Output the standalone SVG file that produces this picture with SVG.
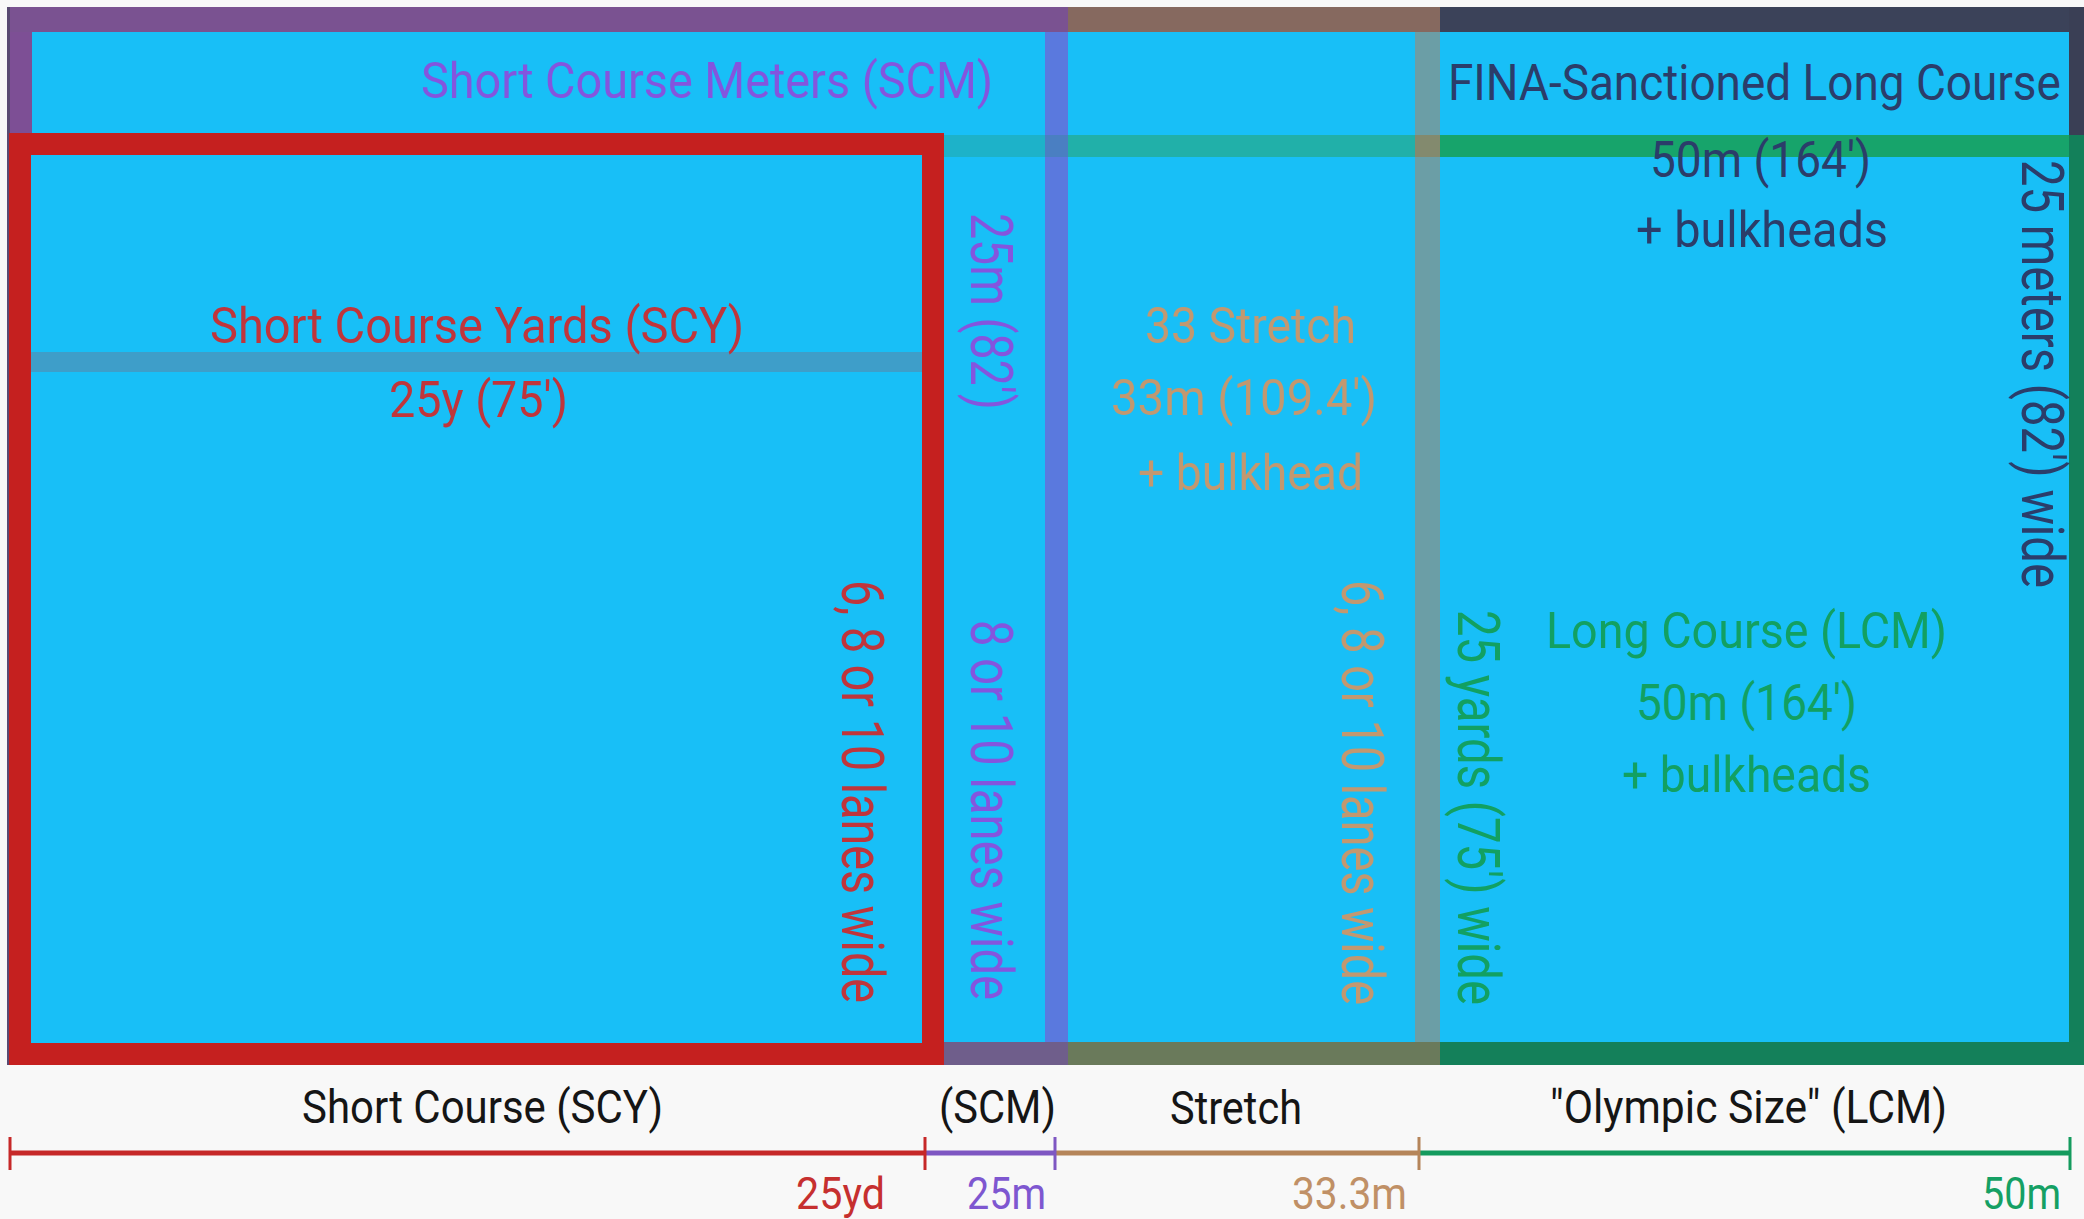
<svg xmlns="http://www.w3.org/2000/svg" width="2084" height="1219" viewBox="0 0 2084 1219">
<style>
  text { font-family: Roboto, "Liberation Sans", sans-serif; }
  .t { font-size: 50px; }
  .v { font-size: 60px; }
  .s { font-size: 46px; fill: #151515; }
  .m { font-size: 44px; }
  .scm { fill: #8455de; }
  .scy { fill: #c0353b; }
  .str { fill: #c29870; }
  .lcm { fill: #12a062; }
  .fina { fill: #2b3d6a; }
</style>
<rect x="0" y="0" width="2084" height="1219" fill="#f8f8f8"/>
<rect id="water" x="7" y="7" width="2077" height="1058" fill="#18bff7"/>

<g id="long-course-lcm">
  <rect x="944" y="135" width="101" height="22" fill="#1db2c9"/>
  <rect x="1068" y="135" width="347" height="22" fill="#21b0a9"/>
  <rect x="1440" y="135" width="629" height="22" fill="#17a46b"/>
  <rect x="2069" y="135" width="15" height="930" fill="#13805a"/>
  <rect x="1440" y="1042" width="644" height="23" fill="#14805a"/>
  <text class="t lcm" x="1546" y="648" textLength="401" lengthAdjust="spacingAndGlyphs">Long Course (LCM)</text>
  <text class="t lcm" x="1636" y="720" textLength="221" lengthAdjust="spacingAndGlyphs">50m (164')</text>
  <text class="t lcm" x="1622" y="792" textLength="249" lengthAdjust="spacingAndGlyphs">+ bulkheads</text>
  <text class="v lcm" transform="translate(1458,610) rotate(90)" textLength="395" lengthAdjust="spacingAndGlyphs">25 yards (75') wide</text>
</g>

<g id="fina-long-course">
  <text class="t fina" transform="translate(1448,100) scale(0.9,1)" textLength="681" lengthAdjust="spacingAndGlyphs">FINA-Sanctioned Long Course</text>
  <text class="t fina" x="1650" y="177" textLength="221" lengthAdjust="spacingAndGlyphs">50m (164')</text>
  <text class="t fina" x="1636" y="247" textLength="252" lengthAdjust="spacingAndGlyphs">+ bulkheads</text>
  <text class="v fina" transform="translate(2022,160) rotate(90)" textLength="428" lengthAdjust="spacingAndGlyphs">25 meters (82') wide</text>
  <rect x="1440" y="7" width="644" height="25" fill="#3b4259"/>
  <rect x="2069" y="7" width="15" height="128" fill="#3a3f55"/>
  <rect x="7" y="7" width="3" height="1058" fill="#594a72"/>
</g>

<g id="stretch-33">
  <rect x="1068" y="7" width="372" height="25" fill="#86695f"/>
  <rect x="1415" y="32" width="25" height="1010" fill="#6b9ea6"/>
  <rect x="1415" y="135" width="25" height="22" fill="#838a6e"/>
  <rect x="1068" y="1042" width="372" height="23" fill="#6a7a5b"/>
  <text class="t str" x="1145" y="343" textLength="211" lengthAdjust="spacingAndGlyphs">33 Stretch</text>
  <text class="t str" x="1111" y="415" textLength="266" lengthAdjust="spacingAndGlyphs">33m (109.4')</text>
  <text class="t str" x="1138" y="490" textLength="225" lengthAdjust="spacingAndGlyphs">+ bulkhead</text>
  <text class="v str" transform="translate(1342,580) rotate(90)" textLength="425" lengthAdjust="spacingAndGlyphs">6, 8 or 10 lanes wide</text>
</g>

<g id="short-course-meters">
  <rect x="10" y="7" width="1058" height="25" fill="#7a5291"/>
  <rect x="10" y="32" width="22" height="101" fill="#7d4f95"/>
  <rect x="1045" y="32" width="23" height="1010" fill="#5a79de"/>
  <rect x="1045" y="135" width="23" height="22" fill="#4a7fc2"/>
  <rect x="944" y="1042" width="124" height="23" fill="#6f5e8b"/>
  <text class="t scm" x="421" y="98" textLength="572" lengthAdjust="spacingAndGlyphs">Short Course Meters (SCM)</text>
  <text class="v scm" transform="translate(971,213) rotate(90)" textLength="197" lengthAdjust="spacingAndGlyphs">25m (82')</text>
  <text class="v scm" transform="translate(971,620) rotate(90)" textLength="380" lengthAdjust="spacingAndGlyphs">8 or 10 lanes wide</text>
</g>

<g id="short-course-yards">
  <rect x="31" y="352" width="891" height="20" fill="#3e9ec9"/>
  <rect x="20" y="144" width="913" height="910" fill="none" stroke="#c5201f" stroke-width="22"/>
  <text class="t scy" x="210" y="343" textLength="534" lengthAdjust="spacingAndGlyphs">Short Course Yards (SCY)</text>
  <text class="t scy" x="389" y="417" textLength="179" lengthAdjust="spacingAndGlyphs">25y (75')</text>
  <text class="v scy" transform="translate(842,580) rotate(90)" textLength="423" lengthAdjust="spacingAndGlyphs">6, 8 or 10 lanes wide</text>
</g>

<g id="connectors" stroke-width="5" fill="none">
  <line x1="10" y1="1153" x2="925" y2="1153" stroke="#c62828"/>
  <line x1="925" y1="1153" x2="1055" y2="1153" stroke="#7e57c2"/>
  <line x1="1055" y1="1153" x2="1419" y2="1153" stroke="#b5855a"/>
  <line x1="1419" y1="1153" x2="2070" y2="1153" stroke="#149b5e"/>
  <g stroke-width="3">
    <line x1="10" y1="1137" x2="10" y2="1170" stroke="#c62828"/>
    <line x1="925" y1="1137" x2="925" y2="1170" stroke="#c62828"/>
    <line x1="1055" y1="1137" x2="1055" y2="1170" stroke="#7e57c2"/>
    <line x1="1419" y1="1137" x2="1419" y2="1170" stroke="#b5855a"/>
    <line x1="2070" y1="1137" x2="2070" y2="1170" stroke="#149b5e"/>
  </g>
</g>

<g id="scale-labels">
  <text class="s" x="302" y="1123" textLength="361" lengthAdjust="spacingAndGlyphs">Short Course (SCY)</text>
  <text class="s" x="939" y="1123" textLength="117" lengthAdjust="spacingAndGlyphs">(SCM)</text>
  <text class="s" x="1170" y="1124" textLength="132" lengthAdjust="spacingAndGlyphs">Stretch</text>
  <text class="s" x="1550" y="1123" textLength="397" lengthAdjust="spacingAndGlyphs">"Olympic Size" (LCM)</text>
  <text class="m" x="796" y="1209" fill="#c62f2f" textLength="89" lengthAdjust="spacingAndGlyphs">25yd</text>
  <text class="m" x="967" y="1209" fill="#7e57d0" textLength="79" lengthAdjust="spacingAndGlyphs">25m</text>
  <text class="m" x="1292" y="1209" fill="#c09066" textLength="115" lengthAdjust="spacingAndGlyphs">33.3m</text>
  <text class="m" x="1982" y="1209" fill="#15a064" textLength="79" lengthAdjust="spacingAndGlyphs">50m</text>
</g>
</svg>
